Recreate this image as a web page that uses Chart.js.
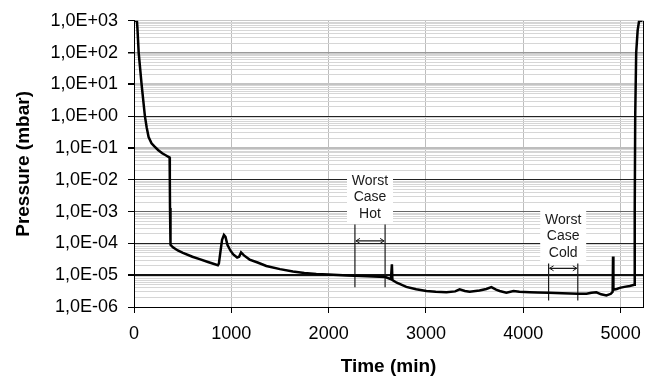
<!DOCTYPE html>
<html>
<head>
<meta charset="utf-8">
<script src="https://cdn.jsdelivr.net/npm/chart.js@4.4.1/dist/chart.umd.min.js"></script>
<style>
    html, body { margin: 0; padding: 0; background: #fff; }
    #wrap { width: 657px; height: 376px; }
</style>
</head>
<body>
<div id="wrap"><canvas id="pressureChart" width="657" height="376"></canvas></div>
<script>
// Time (min) vs chamber pressure (mbar)
const timeMin = [0, 30, 35, 48, 78, 112, 130, 150, 180, 212,
    250, 290, 330, 366, 368, 370, 372, 378, 400, 450,
    503, 600, 674, 760, 862, 872, 890, 905, 924, 940,
    960, 990, 1020, 1060, 1080, 1100, 1130, 1188, 1270, 1360,
    1500, 1633, 1750, 1873, 2000, 2195, 2400, 2583, 2640, 2650,
    2655, 2700, 2798, 2900, 3004, 3100, 3210, 3300, 3346, 3400,
    3449, 3550, 3620, 3672, 3720, 3757, 3826, 3900, 3960, 4066,
    4150, 4261, 4400, 4560, 4650, 4700, 4751, 4800, 4854, 4900,
    4918, 4922, 4926, 4960, 4991, 5040, 5094, 5140, 5145, 5150,
    5160, 5175, 5190, 5225];
const pressure = [1000, 1000, 600, 100, 10, 1, 0.45, 0.22, 0.14, 0.11,
    0.085, 0.068, 0.058, 0.05, 0.01, 1.3e-3, 2e-4, 9e-5, 7.5e-5, 6e-5,
    5e-5, 3.8e-5, 3.2e-5, 2.6e-5, 2.05e-5, 2.3e-5, 6e-5, 1.3e-4, 1.85e-4, 1.6e-4,
    9e-5, 6e-5, 4.5e-5, 3.6e-5, 3.8e-5, 5.2e-5, 4.2e-5, 3.1e-5, 2.5e-5, 1.95e-5,
    1.55e-5, 1.3e-5, 1.18e-5, 1.1e-5, 1.05e-5, 9.8e-6, 9.3e-6, 8.8e-6, 7.5e-6, 2.2e-5,
    7e-6, 5.8e-6, 4.3e-6, 3.6e-6, 3.2e-6, 3.0e-6, 2.9e-6, 3.1e-6, 3.6e-6, 3.2e-6,
    3.0e-6, 3.3e-6, 3.7e-6, 4.2e-6, 3.5e-6, 3.2e-6, 2.8e-6, 3.2e-6, 3.0e-6, 2.9e-6,
    2.85e-6, 2.8e-6, 2.7e-6, 2.6e-6, 2.6e-6, 2.8e-6, 2.9e-6, 2.5e-6, 2.3e-6, 2.6e-6,
    3e-6, 3.9e-5, 3.5e-6, 3.7e-6, 4e-6, 4.3e-6, 4.6e-6, 5e-6, 1e-3, 1,
    100, 500, 1000, 1000];

const xTickValues = [0, 1000, 2000, 3000, 4000, 5000];
const xTickLabels = ['0', '1000', '2000', '3000', '4000', '5000'];
const yTickValues = [1e-6, 1e-5, 1e-4, 1e-3, 1e-2, 1e-1, 1e0, 1e1, 1e2, 1e3];
const yTickLabels = ['1,0E-06', '1,0E-05', '1,0E-04', '1,0E-03', '1,0E-02',
    '1,0E-01', '1,0E+00', '1,0E+01', '1,0E+02', '1,0E+03'];

// Test phases marked on the chart
const phaseLabels = [['Worst', 'Case', 'Hot'], ['Worst', 'Case', 'Cold']];
const phaseStart = [2270, 4260];
const phaseEnd = [2580, 4560];
const phaseTop = [3.9e-4, 2.35e-5];
const phaseBottom = [4.2e-6, 1.6e-6];
const phaseArrow = [1.2e-4, 1.65e-5];

const FONT = '"Liberation Sans", Arial, sans-serif';

// horizontal grid look per decade (Excel export is patchy)
const decadeGrid = {
    '3': ['#c8c8c8', 1], '2': ['#9a9a9a', 1.5], '1': ['#c4c4c4', 2],
    '0': ['#222', 1], '-1': ['#bdbdbd', 2], '-2': ['#222', 1],
    '-3': ['#666', 1], '-4': ['#222', 1], '-5': ['#111', 2], '-6': ['#000', 1]
};

function decadeOf(v) {
    const e = Math.log10(v);
    return Math.abs(e - Math.round(e)) < 1e-6 ? Math.round(e) : null;
}

const phaseMarkers = {
    id: 'phaseMarkers',
    beforeDatasetsDraw(chart) {
        const { ctx, scales: { x, y } } = chart;
        const lineH = 16.5;
        ctx.save();
        phaseLabels.forEach((lines, i) => {
            const x0 = x.getPixelForValue(phaseStart[i]);
            const x1 = x.getPixelForValue(phaseEnd[i]);
            const yTop = y.getPixelForValue(phaseTop[i]);
            const yBot = y.getPixelForValue(phaseBottom[i]);
            const yArr = y.getPixelForValue(phaseArrow[i]);
            const cx = (x0 + x1) / 2;
            const lastY = yTop - 10.5;
            const firstY = lastY - lineH * (lines.length - 1);

            // label box hides the grid
            ctx.fillStyle = '#fff';
            ctx.fillRect(cx - 23, firstY - 10, 46, lastY - firstY + 19);

            ctx.fillStyle = '#1a1a1a';
            ctx.font = '14px ' + FONT;
            ctx.textAlign = 'center';
            ctx.textBaseline = 'middle';
            lines.forEach((t, k) => ctx.fillText(t, cx, firstY + k * lineH));

            ctx.strokeStyle = '#1a1a1a';
            ctx.lineWidth = 1.2;
            ctx.beginPath();
            ctx.moveTo(x0, yTop); ctx.lineTo(x0, yBot);
            ctx.moveTo(x1, yTop); ctx.lineTo(x1, yBot);
            ctx.moveTo(x0 + 1, yArr); ctx.lineTo(x1 - 1, yArr);
            ctx.stroke();

            ctx.lineWidth = 1;
            ctx.beginPath();
            ctx.moveTo(x0 + 5, yArr - 2.5); ctx.lineTo(x0 + 1, yArr); ctx.lineTo(x0 + 5, yArr + 2.5);
            ctx.moveTo(x1 - 5, yArr - 2.5); ctx.lineTo(x1 - 1, yArr); ctx.lineTo(x1 - 5, yArr + 2.5);
            ctx.stroke();
        });
        ctx.restore();
    },
    afterDraw(chart) {
        const { ctx, chartArea } = chart;
        ctx.save();
        ctx.strokeStyle = '#000';
        ctx.lineWidth = 1;
        ctx.beginPath();
        ctx.moveTo(chartArea.right + 0.5, chartArea.top);
        ctx.lineTo(chartArea.right + 0.5, chartArea.bottom);
        ctx.stroke();
        ctx.restore();
    }
};

new Chart(document.getElementById('pressureChart'), {
    type: 'line',
    data: {
        datasets: [{
            label: 'Pressure',
            data: timeMin.map((t, i) => ({ x: t, y: pressure[i] })),
            borderColor: '#000',
            borderWidth: 2.5,
            pointRadius: 0,
            tension: 0,
            fill: false
        }]
    },
    options: {
        responsive: false,
        animation: false,
        devicePixelRatio: 1,
        layout: { padding: { left: 0, right: 14, top: 16, bottom: 0 } },
        plugins: {
            legend: { display: false },
            tooltip: { enabled: false }
        },
        scales: {
            x: {
                type: 'linear',
                min: 0,
                max: 5230,
                afterBuildTicks: scale => {
                    scale.ticks = xTickValues.map(v => ({ value: v }));
                },
                afterFit: scale => { scale.height = 69; },
                ticks: {
                    autoSkip: false,
                    maxRotation: 0,
                    padding: 10,
                    color: '#000',
                    font: { family: FONT, size: 18 },
                    callback: value => {
                        const i = xTickValues.indexOf(value);
                        return i >= 0 ? xTickLabels[i] : '';
                    }
                },
                grid: { color: '#bdbdbd', lineWidth: 1, tickLength: 6, tickColor: '#000' },
                border: { color: '#000', width: 1 },
                title: {
                    display: true,
                    text: 'Time (min)',
                    color: '#000',
                    font: { family: FONT, size: 19, weight: 'bold', lineHeight: 1 },
                    padding: { top: 0, bottom: 0 }
                }
            },
            y: {
                type: 'logarithmic',
                min: 1e-6,
                max: 1e3,
                afterBuildTicks: scale => {
                    const ticks = [];
                    yTickValues.forEach((d, i) => {
                        if (i === yTickValues.length - 1) {
                            ticks.push({ value: d });
                            return;
                        }
                        for (let k = 1; k < 10; k++) ticks.push({ value: k * d });
                    });
                    scale.ticks = ticks;
                },
                afterFit: scale => { scale.width = 134; },
                ticks: {
                    autoSkip: false,
                    padding: 10,
                    color: '#000',
                    font: { family: FONT, size: 18 },
                    callback: value => {
                        const e = decadeOf(value);
                        if (e === null) return '';
                        const i = yTickValues.findIndex(v => decadeOf(v) === e);
                        return i >= 0 ? yTickLabels[i] : '';
                    }
                },
                grid: {
                    color: ctx => {
                        const e = ctx.tick ? decadeOf(ctx.tick.value) : null;
                        return e === null ? '#d6d6d6' : decadeGrid[String(e)][0];
                    },
                    lineWidth: ctx => {
                        const e = ctx.tick ? decadeOf(ctx.tick.value) : null;
                        return e === null ? 1 : decadeGrid[String(e)][1];
                    },
                    tickLength: 6,
                    tickColor: ctx => {
                        const e = ctx.tick ? decadeOf(ctx.tick.value) : null;
                        return e === null ? 'rgba(0,0,0,0)' : '#000';
                    }
                },
                border: { color: '#000', width: 1 },
                title: {
                    display: true,
                    text: 'Pressure (mbar)',
                    color: '#000',
                    font: { family: FONT, size: 19, weight: 'bold', lineHeight: 1 },
                    padding: { top: 14, bottom: 0 }
                }
            }
        }
    },
    plugins: [phaseMarkers]
});
</script>
</body>
</html>
